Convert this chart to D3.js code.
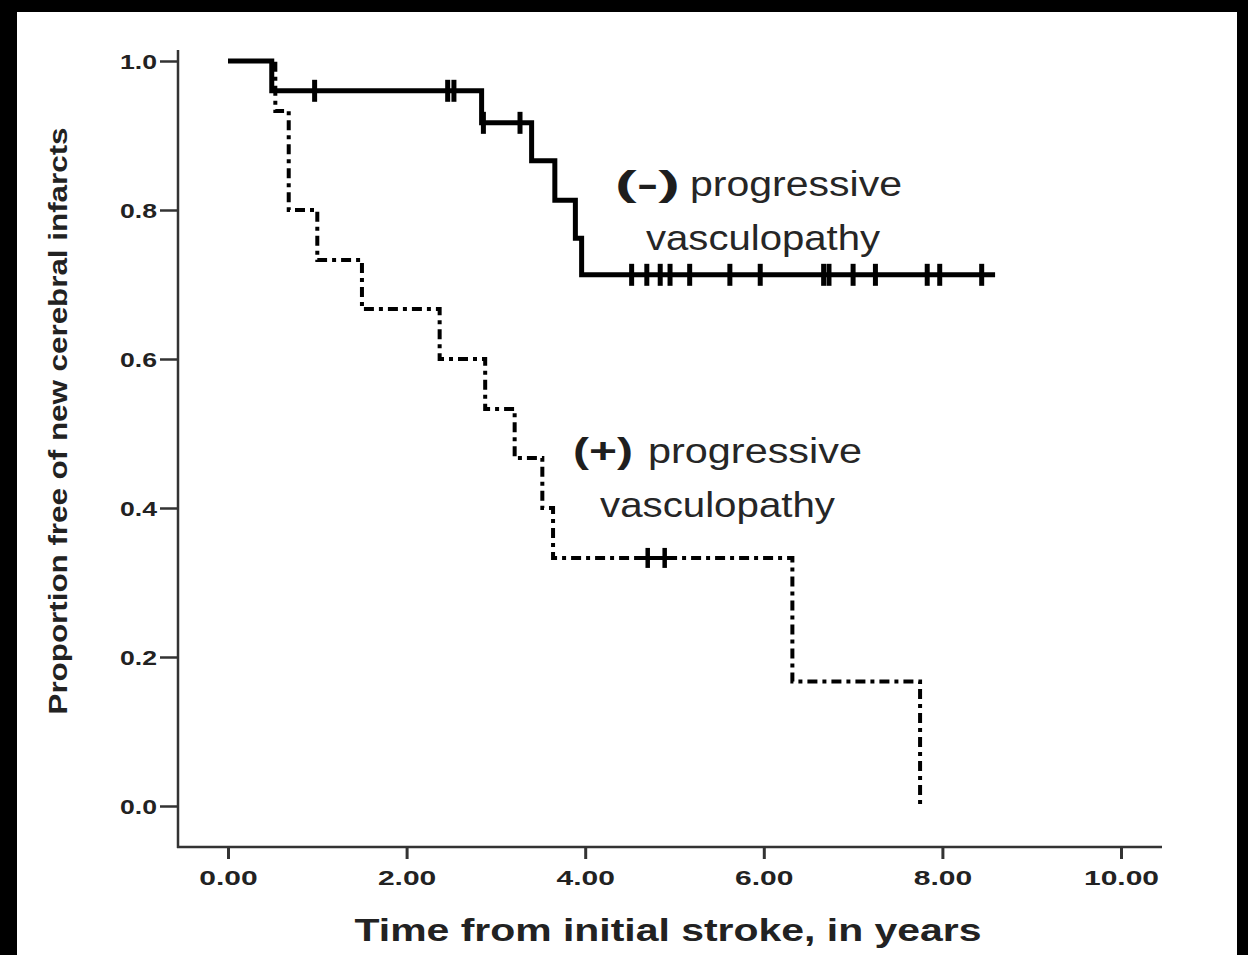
<!DOCTYPE html>
<html>
<head>
<meta charset="utf-8">
<script src="https://cdn.jsdelivr.net/npm/d3@7"></script>
<style>
  html, body { margin: 0; padding: 0; background: #000; }
  svg { display: block; }
</style>
</head>
<body>
<svg id="chart" width="1248" height="955"></svg>
<script>
// Axis ticks
const xTickValues = [0, 2, 4, 6, 8, 10];
const xTickLabels = ["0.00", "2.00", "4.00", "6.00", "8.00", "10.00"];
const yTickValues = [0, 0.2, 0.4, 0.6, 0.8, 1.0];
const yTickLabels = ["0.0", "0.2", "0.4", "0.6", "0.8", "1.0"];

// (-) progressive vasculopathy: event times (years) and survival after each event
const negTimes = [0, 0.49, 2.84, 3.40, 3.66, 3.89, 3.96, 8.59];
const negSurvival = [1.0, 0.96, 0.917, 0.866, 0.813, 0.762, 0.713, 0.713];
const negCensored = [0.97, 2.46, 2.53, 2.86, 3.27, 4.52, 4.69, 4.84, 4.95, 5.17,
                     5.62, 5.96, 6.67, 6.73, 7.00, 7.25, 7.83, 7.97, 8.44];

// (+) progressive vasculopathy
const posTimes = [0, 0.53, 0.68, 1.00, 1.50, 2.37, 2.88, 3.21, 3.52, 3.64, 6.32, 7.75];
const posSurvival = [1.0, 0.933, 0.8, 0.733, 0.667, 0.6, 0.533, 0.467, 0.4, 0.333, 0.167, 0.0];
const posCensored = [4.70, 4.89];

const svg = d3.select("#chart");

// white page inside the black frame
svg.append("rect").attr("x", 17).attr("y", 12).attr("width", 1220).attr("height", 943).attr("fill", "#fff");

const x = d3.scaleLinear().domain([0, 10]).range([228, 1121]);
const y = d3.scaleLinear().domain([0, 1]).range([806, 61]);

const axisColor = "#333";
const axisTop = y(1) - 11, axisBottom = 847, axisLeft = 178, axisRight = 1162;

// axis lines
svg.append("line").attr("x1", axisLeft).attr("x2", axisLeft).attr("y1", axisTop).attr("y2", axisBottom + 1)
  .attr("stroke", axisColor).attr("stroke-width", 2.5);
svg.append("line").attr("x1", axisLeft - 1).attr("x2", axisRight).attr("y1", axisBottom).attr("y2", axisBottom)
  .attr("stroke", axisColor).attr("stroke-width", 2.5);

// y axis ticks
const gy = svg.append("g").attr("transform", `translate(${axisLeft},0)`)
  .call(d3.axisLeft(y).tickValues(yTickValues).tickFormat((d, i) => yTickLabels[i]).tickSize(18).tickPadding(3));
gy.select(".domain").remove();
gy.selectAll(".tick line").attr("stroke", axisColor).attr("stroke-width", 2.5);
gy.selectAll(".tick text").attr("font-family", "Liberation Sans, Arial, sans-serif")
  .attr("font-weight", "bold").attr("font-size", 20).attr("fill", "#222").attr("dy", "0.35em")
  .attr("textLength", 37).attr("lengthAdjust", "spacingAndGlyphs");

// x axis ticks
const gx = svg.append("g").attr("transform", `translate(0,${axisBottom})`)
  .call(d3.axisBottom(x).tickValues(xTickValues).tickFormat((d, i) => xTickLabels[i]).tickSize(12).tickPadding(12));
gx.select(".domain").remove();
gx.selectAll(".tick line").attr("stroke", axisColor).attr("stroke-width", 3);
gx.selectAll(".tick text").attr("font-family", "Liberation Sans, Arial, sans-serif")
  .attr("font-weight", "bold").attr("font-size", 20).attr("fill", "#222")
  .each(function () {
    const w = this.getComputedTextLength();
    d3.select(this).attr("textLength", w * 1.5).attr("lengthAdjust", "spacingAndGlyphs");
  });

// axis titles
svg.append("text").attr("x", 668).attr("y", 941).attr("text-anchor", "middle")
  .attr("font-family", "Liberation Sans, Arial, sans-serif").attr("font-weight", "bold").attr("font-size", 32)
  .attr("fill", "#222").attr("textLength", 627).attr("lengthAdjust", "spacingAndGlyphs")
  .text("Time from initial stroke, in years");

svg.append("text").attr("transform", "translate(67,421) rotate(-90)").attr("text-anchor", "middle")
  .attr("font-family", "Liberation Sans, Arial, sans-serif").attr("font-weight", "bold").attr("font-size", 26)
  .attr("fill", "#222").attr("textLength", 587).attr("lengthAdjust", "spacingAndGlyphs")
  .text("Proportion free of new cerebral infarcts");

// survival step curves
const stepLine = d3.line().x(d => x(d[0])).y(d => y(d[1])).curve(d3.curveStepAfter);
const survivalAt = (times, surv, t) => surv[d3.bisectRight(times, t) - 1];

svg.append("path").datum(d3.zip(posTimes, posSurvival)).attr("d", stepLine)
  .attr("fill", "none").attr("stroke", "#000").attr("stroke-width", 4)
  .attr("stroke-dasharray", "10,5,4,5");

svg.append("path").datum(d3.zip(negTimes, negSurvival)).attr("d", stepLine)
  .attr("fill", "none").attr("stroke", "#000").attr("stroke-width", 5);

// censoring marks
svg.append("g").selectAll("line").data(negCensored).join("line")
  .attr("x1", d => x(d)).attr("x2", d => x(d))
  .attr("y1", d => y(survivalAt(negTimes, negSurvival, d)) - 11)
  .attr("y2", d => y(survivalAt(negTimes, negSurvival, d)) + 11)
  .attr("stroke", "#000").attr("stroke-width", 5);

svg.append("g").selectAll("line").data(posCensored).join("line")
  .attr("x1", d => x(d)).attr("x2", d => x(d))
  .attr("y1", d => y(survivalAt(posTimes, posSurvival, d)) - 10)
  .attr("y2", d => y(survivalAt(posTimes, posSurvival, d)) + 10)
  .attr("stroke", "#000").attr("stroke-width", 4.5);
svg.append("line").attr("x1", x(posCensored[0]) - 12).attr("x2", x(posCensored[1]) + 10)
  .attr("y1", y(posSurvival[9])).attr("y2", y(posSurvival[9]))
  .attr("stroke", "#000").attr("stroke-width", 4);

// group labels
const labelFont = "Liberation Sans, Arial, sans-serif";
function groupLabel(sign, x0, xWord, yBase, wSign, wWord, x2, w2) {
  svg.append("text").attr("x", x0).attr("y", yBase).attr("font-family", labelFont).attr("font-size", 35)
    .attr("font-weight", "bold").attr("fill", "#1e1e1e")
    .attr("textLength", wSign).attr("lengthAdjust", "spacingAndGlyphs").text(sign);
  svg.append("text").attr("x", xWord).attr("y", yBase).attr("font-family", labelFont).attr("font-size", 35)
    .attr("fill", "#262626").attr("textLength", wWord).attr("lengthAdjust", "spacingAndGlyphs").text("progressive");
  svg.append("text").attr("x", x2).attr("y", yBase + 54).attr("font-family", labelFont).attr("font-size", 35)
    .attr("fill", "#262626").attr("textLength", w2).attr("lengthAdjust", "spacingAndGlyphs").text("vasculopathy");
}
groupLabel("(-)", 615, 690, 196, 65, 212, 646, 234);
groupLabel("(+)", 573, 648, 463, 60, 214, 600, 235);
</script>
</body>
</html>
